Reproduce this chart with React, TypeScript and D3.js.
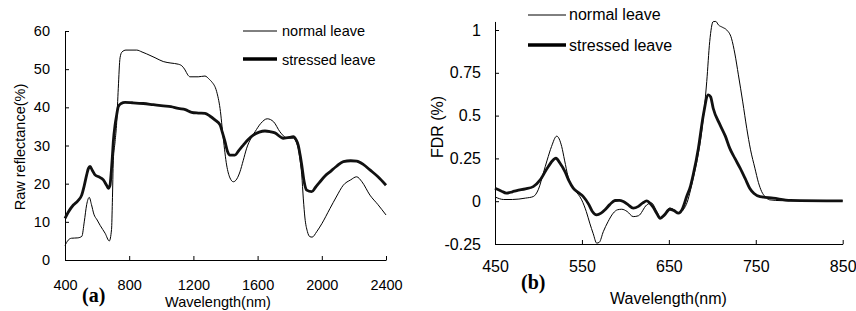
import { useEffect, useRef } from 'react'
import * as d3 from 'd3'

type Pt = [number, number]

// (a) raw reflectance (%) against wavelength (nm)
const rawNormal: Pt[] = [
  [400, 3.8], [420, 5.2], [440, 5.7], [480, 5.8], [505, 6.2], [520, 10], [535, 14.5],
  [551, 16.4], [565, 14.5], [580, 12], [600, 10.5], [620, 9], [650, 7], [676, 5],
  [690, 8], [695, 15], [701, 26], [712, 31], [722, 36], [732, 45], [743, 53], [755, 54.5],
  [780, 55], [847, 55], [880, 54.5], [909, 54], [961, 53], [1012, 52], [1060, 51.6],
  [1106, 51.3], [1130, 50.8], [1148, 49.8], [1165, 48.5], [1179, 48], [1230, 48],
  [1272, 48.2], [1300, 47.3], [1314, 46.7], [1345, 44.1], [1366, 39.7], [1386, 31.9],
  [1407, 24.9], [1428, 21.5], [1449, 20.5], [1470, 21.2], [1490, 23.1], [1510, 26],
  [1532, 29.3], [1560, 32], [1584, 33.6], [1620, 35.8], [1660, 37], [1700, 36.2],
  [1739, 33.6], [1781, 32], [1822, 31.9], [1853, 29.3], [1865, 26], [1875, 22.3],
  [1885, 16], [1895, 11], [1910, 7.5], [1926, 6.1], [1940, 6], [1968, 7.4], [2000, 9.5],
  [2051, 13.5], [2090, 16.5], [2134, 19.6], [2180, 21], [2217, 21.8], [2250, 20.5],
  [2300, 17], [2350, 14.5], [2400, 11.8],
]
const rawStressed: Pt[] = [
  [400, 10.9], [420, 12.5], [452, 14.4], [480, 15.5], [504, 17], [520, 19.5], [535, 22.3],
  [546, 24], [556, 24.5], [570, 23.5], [587, 22.3], [610, 21.8], [639, 21], [660, 19.5],
  [670, 18.8], [680, 19.5], [685, 21.4], [695, 27], [701, 31], [712, 35.4], [722, 38],
  [732, 40.2], [750, 41], [774, 41.3], [820, 41.2], [888, 41], [950, 40.7], [1012, 40.4],
  [1060, 40.2], [1106, 39.7], [1150, 39.4], [1189, 38.7], [1230, 38.5], [1272, 38.4],
  [1300, 37.8], [1334, 36.7], [1366, 35.4], [1380, 33.5], [1397, 31], [1412, 28.5],
  [1428, 27.5], [1459, 27.5], [1485, 28.8], [1511, 30.1], [1540, 31.5], [1573, 32.7],
  [1610, 33.5], [1646, 33.8], [1680, 33.6], [1708, 33.3], [1760, 31.9], [1800, 32.1],
  [1822, 32.3], [1840, 31.5], [1853, 30.1], [1865, 27.5], [1875, 24.9], [1890, 20.5],
  [1906, 18.3], [1937, 17.9], [1960, 19], [1989, 20.5], [2020, 22], [2051, 23.1],
  [2090, 24.5], [2134, 25.8], [2180, 26], [2217, 25.9], [2260, 25], [2300, 23.6],
  [2350, 21.8], [2400, 19.6],
]
const rawXTicks = [400, 800, 1200, 1600, 2000, 2400]
const rawYTicks = [0, 10, 20, 30, 40, 50, 60]

// (b) first derivative reflectance (%)
const fdrNormal: Pt[] = [
  [450, 0.025], [460, 0.01], [470, 0.01], [485, 0.018], [494, 0.027], [500, 0.07],
  [505.6, 0.164], [510, 0.24], [515, 0.319], [521, 0.38], [526.7, 0.32], [530, 0.24],
  [534, 0.144], [542, 0.066], [549.7, 0.008], [555, -0.06], [559, -0.128], [563, -0.19],
  [567, -0.245], [570, -0.24], [574.6, -0.178], [580, -0.12], [586, -0.07], [591, -0.05],
  [595.8, -0.047], [602, -0.06], [609, -0.09], [615, -0.085], [624.5, -0.022], [630, -0.01],
  [636, -0.06], [641, -0.1], [646, -0.07], [651, -0.04], [656, -0.05], [661, -0.07],
  [670, -0.02], [678, 0.134], [684, 0.28], [687.8, 0.407], [693.6, 0.699], [697, 0.932],
  [701, 1.049], [704, 1.05], [707, 1.03], [712, 1.015], [716.6, 1.0], [722, 0.952],
  [726, 0.86], [730, 0.738], [735, 0.58], [739.6, 0.426], [744, 0.3], [749, 0.193],
  [753, 0.11], [756.8, 0.056], [761, 0.025], [766, 0.008], [780, 0.003], [800, 0.002],
  [850, 0.002],
]
const fdrStressed: Pt[] = [
  [450, 0.076], [457, 0.06], [463, 0.047], [470, 0.055], [475, 0.062], [485, 0.072],
  [494, 0.085], [502, 0.124], [511, 0.2], [520, 0.251], [525, 0.22], [530.5, 0.173],
  [535, 0.12], [540, 0.076], [546, 0.05], [551.6, 0.027], [558, -0.02], [562, -0.06],
  [567, -0.08], [572, -0.07], [576.6, -0.05], [582, -0.02], [588, 0.004], [593, 0.005],
  [597.6, -0.002], [603, -0.02], [609, -0.041], [615, -0.03], [620, -0.01], [624.5, 0.002],
  [628, -0.01], [632, -0.035], [636, -0.07], [640, -0.1], [645, -0.08], [651, -0.047],
  [656, -0.055], [661, -0.07], [666, -0.04], [670.5, 0.027], [675, 0.09], [678, 0.154],
  [684, 0.31], [689.7, 0.504], [695.4, 0.621], [698, 0.61], [701, 0.543], [708.9, 0.446],
  [715, 0.38], [720, 0.31], [726, 0.25], [732, 0.193], [738, 0.13], [743, 0.076],
  [748, 0.045], [755, 0.027], [770, 0.018], [790, 0.005], [850, 0.002],
]
const fdrXTicks = [450, 550, 650, 750, 850]
const fdrYTicks = [-0.25, 0, 0.25, 0.5, 0.75, 1]

const seriesNames = ['normal leave', 'stressed leave']

const SANS = '"Liberation Sans", Arial, sans-serif'

function drawPanel(svg: any, p: any) {
  const x = d3.scaleLinear().domain(p.xDomain).range(p.xRange)
  const y = d3.scaleLinear().domain(p.yDomain).range(p.yRange)

  const xAxis = svg.append('g')
    .attr('transform', `translate(0,${y(p.yDomain[0])})`)
    .call(d3.axisBottom(x).tickValues(p.xTicks).tickSizeInner(-4).tickSizeOuter(0)
      .tickPadding(p.xPad).tickFormat((d: any) => String(d)))
  const yAxis = svg.append('g')
    .attr('transform', `translate(${p.xRange[0]},0)`)
    .call(d3.axisLeft(y).tickValues(p.yTicks).tickSizeInner(-4).tickSizeOuter(0)
      .tickPadding(p.yPad).tickFormat((d: any) => String(d)))

  for (const ax of [xAxis, yAxis]) {
    ax.attr('font-family', SANS).attr('font-size', p.fs)
    ax.select('.domain').attr('stroke', '#000')
    ax.selectAll('.tick line').attr('stroke', '#000')
    ax.selectAll('.tick text').attr('fill', '#000')
  }

  const line = d3.line<Pt>()
    .x(d => x(d[0]))
    .y(d => y(d[1]))
    .curve(d3.curveMonotoneX)

  svg.append('path').datum(p.normal)
    .attr('d', line).attr('fill', 'none').attr('stroke', '#000').attr('stroke-width', 1)
  svg.append('path').datum(p.stressed)
    .attr('d', line).attr('fill', 'none').attr('stroke', '#111').attr('stroke-width', 2.8)
    .attr('stroke-linejoin', 'round')

  // legend
  p.legend.forEach((l: any, i: number) => {
    svg.append('line')
      .attr('x1', l.x1).attr('x2', l.x2).attr('y1', l.y).attr('y2', l.y)
      .attr('stroke', '#000').attr('stroke-width', i === 0 ? 1 : 3.5)
    svg.append('text')
      .attr('x', l.tx).attr('y', l.ty)
      .attr('font-family', SANS).attr('font-size', p.fs)
      .text(seriesNames[i])
  })

  // axis titles
  svg.append('text')
    .attr('x', p.xTitle[0]).attr('y', p.xTitle[1])
    .attr('text-anchor', 'middle')
    .attr('font-family', SANS).attr('font-size', p.fs)
    .text('Wavelength(nm)')
  svg.append('text')
    .attr('transform', `translate(${p.yTitle[0]},${p.yTitle[1]}) rotate(-90)`)
    .attr('text-anchor', 'middle')
    .attr('font-family', SANS).attr('font-size', p.fs)
    .text(p.yLabel)

  // panel tag
  svg.append('text')
    .attr('x', p.tag[0]).attr('y', p.tag[1])
    .attr('font-family', '"Liberation Serif", "Times New Roman", serif')
    .attr('font-weight', 'bold').attr('font-size', 20)
    .text(p.tagText)
}

export default function App() {
  const svgRef = useRef<SVGSVGElement>(null)

  useEffect(() => {
    if (!svgRef.current) return
    const svg = d3.select(svgRef.current)
    svg.selectAll('*').remove()

    drawPanel(svg, {
      normal: rawNormal, stressed: rawStressed,
      xDomain: [400, 2400], xRange: [65, 386],
      yDomain: [0, 60], yRange: [260, 31],
      xTicks: rawXTicks, yTicks: rawYTicks,
      xPad: 19.5, yPad: 15, fs: 14.5,
      legend: [
        { x1: 243, x2: 277, y: 31, tx: 282, ty: 36 },
        { x1: 243, x2: 277, y: 59, tx: 282, ty: 65 },
      ],
      xTitle: [218, 307], yTitle: [25, 147], yLabel: 'Raw reflectance(%)',
      tag: [82, 302], tagText: '(a)',
    })

    drawPanel(svg, {
      normal: fdrNormal, stressed: fdrStressed,
      xDomain: [450, 850], xRange: [495, 842.7],
      yDomain: [-0.25, 1.05], yRange: [244, 244 - 1.3 * 171.2],
      xTicks: fdrXTicks, yTicks: fdrYTicks,
      xPad: 16.5, yPad: 14, fs: 16,
      legend: [
        { x1: 528, x2: 566, y: 15, tx: 569, ty: 20 },
        { x1: 528, x2: 566, y: 45, tx: 569, ty: 50.5 },
      ],
      xTitle: [668.5, 304], yTitle: [443, 127], yLabel: 'FDR (%)',
      tag: [521, 289], tagText: '(b)',
    })
  }, [])

  return (
    <svg
      ref={svgRef}
      width={856}
      height={311}
      style={{ position: 'absolute', left: 0, top: 0, background: '#fff' }}
    />
  )
}
